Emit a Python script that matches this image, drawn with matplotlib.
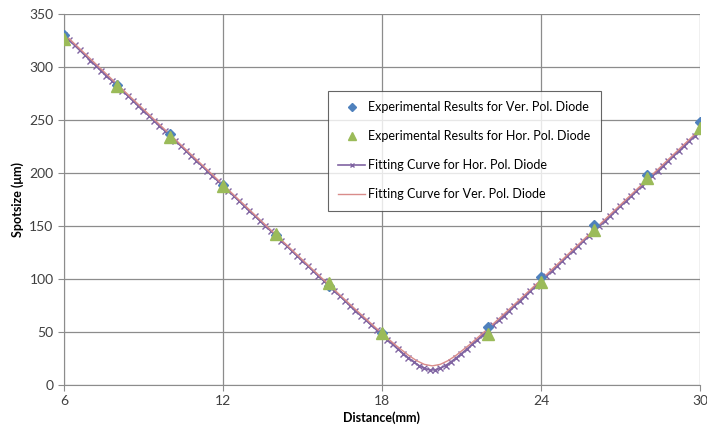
import numpy as np
import matplotlib.pyplot as plt

plt.rcParams['font.family'] = ['Lato', 'DejaVu Sans']

# measured spot sizes (um)
ver_x = [6, 8, 10, 12, 14, 16, 18, 22, 24, 26, 28, 30]
ver_y = [330, 283, 237, 189, 141, 93, 49, 55, 102, 151, 198, 248]
hor_x = [6, 8, 10, 12, 14, 16, 18, 22, 24, 26, 28, 30]
hor_y = [326, 282, 234, 188, 142, 96, 49, 48, 97, 146, 195, 242]

# fitting curve, hor. pol. diode (sampled every 0.2 mm from 6 to 30)
hor_fit_x = np.linspace(6, 30, 121)
hor_fit_y = [329.7, 325.0, 320.3, 315.5, 310.8, 306.0, 301.3, 296.6, 291.8, 287.1,
             282.4, 277.6, 272.9, 268.2, 263.5, 258.7, 254.0, 249.3, 244.5, 239.8,
             235.0, 230.3, 225.6, 220.8, 216.1, 211.4, 206.7, 202.0, 197.2, 192.5,
             187.7, 183.0, 178.3, 173.6, 168.9, 164.1, 159.4, 154.7, 150.0, 145.3,
             140.5, 135.8, 131.1, 126.4, 121.7, 116.9, 112.3, 107.6, 102.9, 98.2,
             93.5, 88.8, 84.1, 79.5, 74.8, 70.1, 65.5, 60.9, 56.3, 51.7,
             47.2, 42.7, 38.2, 33.8, 29.6, 25.5, 21.7, 18.3, 15.7, 14.2,
             14.2, 15.7, 18.3, 21.7, 25.5, 29.6, 33.8, 38.2, 42.7, 47.2,
             51.7, 56.3, 60.9, 65.5, 70.1, 74.8, 79.5, 84.1, 88.8, 93.5,
             98.2, 102.9, 107.6, 112.3, 116.9, 121.7, 126.4, 131.1, 135.8, 140.5,
             145.3, 150.0, 154.7, 159.4, 164.1, 168.9, 173.6, 178.3, 183.0, 187.7,
             192.5, 197.2, 202.0, 206.7, 211.4, 216.1, 220.8, 225.6, 230.3, 235.0,
             239.8]

# fitting curve, ver. pol. diode
ver_fit_x = [6, 8, 10, 12, 14, 16, 17, 18, 18.5, 19, 19.3, 19.6, 19.9,
             20.2, 20.5, 20.8, 21.3, 22, 23, 24, 26, 28, 30]
ver_fit_y = [331.3, 283.8, 236.3, 188.9, 141.6, 94.5, 71.3, 48.7, 37.9, 28.0, 23.0, 19.4, 18.0,
             19.4, 23.0, 28.0, 37.9, 53.1, 76.0, 99.2, 146.3, 193.6, 241.1]

fig = plt.figure(figsize=(7.07, 4.34), dpi=100)
ax = fig.add_axes([0.0905, 0.113, 0.8995, 0.855])

grid_c = '#8c8c8c'
ax.plot(ver_x, ver_y, 'D', color='#4F81BD', ms=5.5, ls='none',
        label='Experimental Results for Ver. Pol. Diode', zorder=3)
ax.plot(hor_x, hor_y, '^', color='#9BBB59', ms=9, ls='none',
        label='Experimental Results for Hor. Pol. Diode', zorder=4)
ax.plot(hor_fit_x, hor_fit_y, color='#8064A2', lw=1.2, marker='x', ms=4, mew=1,
        label='Fitting Curve for Hor. Pol. Diode', zorder=2)
ax.plot(ver_fit_x, ver_fit_y, color='#D98C8A', lw=1,
        label='Fitting Curve for Ver. Pol. Diode', zorder=2.5)

ax.set_xlim(6, 30)
ax.set_ylim(0, 350)
ax.set_xticks([6, 12, 18, 24, 30])
ax.set_yticks(range(0, 351, 50))
ax.grid(True, color=grid_c, lw=0.9)
ax.set_axisbelow(True)
for s in ['top', 'right']:
    ax.spines[s].set_visible(False)
for s in ['left', 'bottom']:
    ax.spines[s].set_color(grid_c)
ax.tick_params(colors='#404040', labelsize=10, length=4, color=grid_c)
ax.set_xlabel('Distance(mm)', fontsize=9, fontweight='bold', labelpad=3)
ax.set_ylabel('Spotsize (\u03bcm)', fontsize=9, fontweight='bold', labelpad=4)

leg = ax.legend(loc='upper left', bbox_to_anchor=(0.405, 0.81), fontsize=9,
                frameon=True, fancybox=False, labelspacing=1.35, markerscale=0.7,
                handlelength=2.1, handletextpad=0.3, borderpad=0.85)
leg.get_frame().set_edgecolor('#404040')
leg.get_frame().set_linewidth(0.8)

fig.savefig('out.png', dpi=100)
